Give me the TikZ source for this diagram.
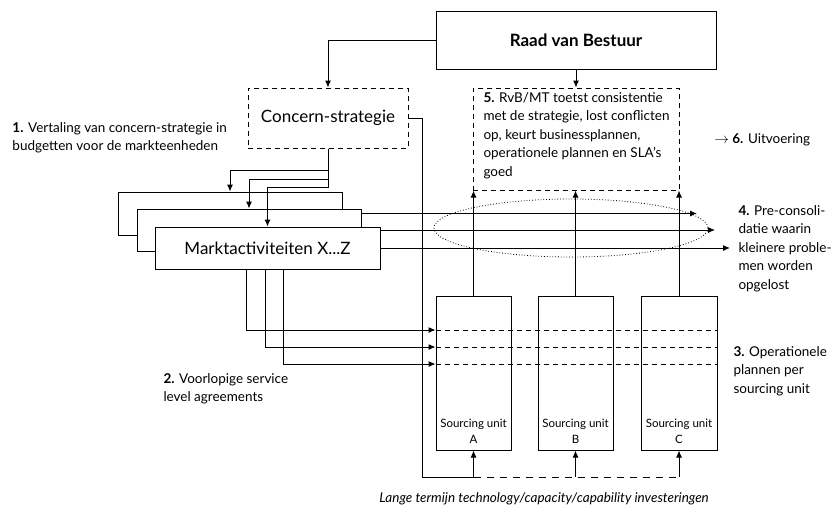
\documentclass[tikz,border=0pt]{standalone}
\usepackage{fontspec}
\setmainfont{Lato}
\usepackage{tikz}
\usetikzlibrary{arrows.meta}

\tikzset{
  box/.style={draw,line width=1pt,fill=white,inner sep=0pt},
  dashbox/.style={draw,dash pattern=on 5pt off 4pt,line width=1pt,inner sep=0pt},
  lbl/.style={inner sep=0pt,align=left,font=\fontsize{13.5}{18.4}\selectfont},
  big/.style={font=\fontsize{17}{20}\selectfont},
  >={Latex[length=7pt,width=6pt]}
}

\begin{document}
\begin{tikzpicture}[x=1pt,y=-1pt,line width=1pt]
        \useasboundingbox (0,0) rectangle (833,507);

        % Top boxes
        \node[box,minimum width=280,minimum height=58,font=\fontsize{17}{20}\selectfont\bfseries] (raad) at (576,40) {Raad van Bestuur};
        \node[dashbox,big,minimum width=160,minimum height=60] (concern) at (328,118) {Concern-strategie};
        \node[dashbox,minimum width=206,minimum height=102] (rvb) at (576,139) {};
        \node[lbl,anchor=north west] (rvbtxt) at (483,92)
          {\textbf{5.} RvB/MT toetst consistentie\\met de strategie, lost conflicten\\op, keurt businessplannen,\\operationele plannen en SLA's\\goed};
        \draw[->] (raad.west) -| (concern.north);
        \draw[->] (raad.south) -- (rvb.north);

        % Markt boxes (stacked) with lines to the right
        \node[box,minimum width=224,minimum height=43] (back) at (230,213.5) {};
        \draw[->] (back.east) -- (697,213.5);
        \node[box,minimum width=224,minimum height=42] (mid) at (249,230) {};
        \draw[->] (mid.east) -- (715,230);
        \node[box,big,minimum width=225,minimum height=42] (front) at (267.5,248) {Marktactiviteiten X...Z};
        \draw[->] (front.east) -- (730,248);
        \draw[dotted,line width=0.8pt] (571,228) ellipse (137 and 29);

        % Concern-strategie to markt
        \draw[->] (concern.south) -- ++(0,22) -| (back.north);
        \draw[->] (concern.south) -- ++(0,31) -| (mid.north);
        \draw[->] (concern.south) -- ++(0,39) -| (front.north);

        % Sourcing units
        \node[box,minimum width=75,minimum height=154] (suA) at (473.5,373) {};
        \node[box,minimum width=75,minimum height=154] (suB) at (575.5,373) {};
        \node[box,minimum width=76,minimum height=154] (suC) at (679,373) {};
        \foreach \s/\l in {suA/A,suB/B,suC/C}{
          \node[align=center,font=\fontsize{11.5}{16}\selectfont,inner sep=0pt] at ([yshift=-58]\s.center) {Sourcing unit\\\l};
          \draw[->] (\s.north) -- (\s.north |- rvb.south);
        }

        % SLA lines
        \foreach \dx/\yy in {-21/330,-2.5/347,15.5/364}{
          \draw[->] ([xshift=\dx]front.south) |- (suA.west |- 0,\yy);
          \draw[dash pattern=on 5pt off 4pt] (suA.west |- 0,\yy) -- (suC.east |- 0,\yy);
        }

        % Long term investments
        \coordinate (bus) at (422,477);
        \draw (concern.east) -| (bus) -- (suA.south |- bus);
        \draw[dash pattern=on 7pt off 6pt] (suA.south |- bus) -- (suC.south |- bus);
        \foreach \s in {suA,suB,suC}
          \draw[->] (\s.south |- bus) -- (\s.south);

        % Labels
        \node[lbl,anchor=west] (l1) at (12,137.5) {\textbf{1.} Vertaling van concern-strategie in\\budgetten voor de markteenheden};
        \node[lbl,anchor=west] (l2) at (163,389) {\textbf{2.} Voorlopige service\\level agreements};
        \node[lbl,anchor=west] (l3) at (733,371) {\textbf{3.} Operationele\\plannen per\\sourcing unit};
        \node[lbl,anchor=west] (l4) at (738,248.5) {\textbf{4.} Pre-consoli-\\datie waarin\\kleinere proble-\\men worden\\opgelost};
        \node[lbl,anchor=west] (l6) at (714,140) {$\rightarrow$ \textbf{6.} Uitvoering};
        \node[lbl,font=\fontsize{13.5}{14}\selectfont\itshape] (l7) at (544,499) {Lange termijn technology/capacity/capability investeringen};
    \end{tikzpicture}
\end{document}
